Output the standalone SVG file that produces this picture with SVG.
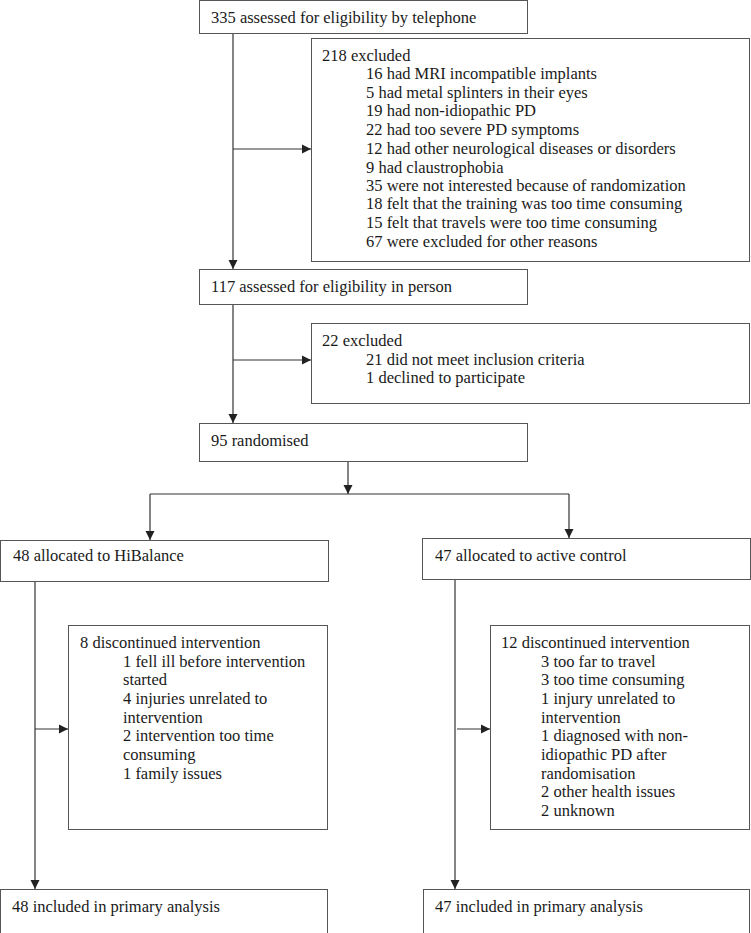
<svg xmlns="http://www.w3.org/2000/svg" width="751" height="933" viewBox="0 0 751 933">
<defs>
<marker id="ah" markerWidth="10" markerHeight="10" refX="9" refY="5" orient="auto" markerUnits="userSpaceOnUse">
<path d="M0,0.5 L9,5 L0,9.5 Z" fill="#222"/>
</marker>
<style>
.box{fill:#fff;stroke:#555;stroke-width:1}
.t{font-family:"Liberation Serif","DejaVu Serif",serif;font-size:16.5px;fill:#1a1a1a}
.c{stroke:#333;stroke-width:1.2;fill:none}
.a{marker-end:url(#ah)}
</style>
</defs>
<rect width="751" height="933" fill="#fff"/>
<g id="connectors">
<line class="c a" x1="233" y1="33" x2="233" y2="269"/>
<line class="c a" x1="233" y1="149" x2="311" y2="149"/>
<line class="c a" x1="233" y1="305" x2="233" y2="423"/>
<line class="c a" x1="233" y1="360" x2="311" y2="360"/>
<line class="c a" x1="348" y1="461" x2="348" y2="494"/>
<polyline class="c" points="150,494 569,494"/>
<line class="c a" x1="150" y1="494" x2="150" y2="540"/>
<line class="c a" x1="569" y1="494" x2="569" y2="538"/>
<line class="c a" x1="35" y1="581" x2="35" y2="889"/>
<line class="c a" x1="35" y1="729" x2="68" y2="729"/>
<line class="c a" x1="455" y1="579" x2="455" y2="889"/>
<line class="c a" x1="457" y1="729" x2="490" y2="729"/>
</g>
<g id="n1">
<rect class="box" x="199.5" y="0.5" width="328" height="33"/>
<text class="t" x="211" y="22.5">335 assessed for eligibility by telephone</text>
</g>
<g id="n2">
<rect class="box" x="311.5" y="38.5" width="438" height="223"/>
<text class="t" x="322" y="61">218 excluded</text>
<text class="t" x="366" y="79">16 had MRI incompatible implants</text>
<text class="t" x="366" y="98">5 had metal splinters in their eyes</text>
<text class="t" x="366" y="116">19 had non-idiopathic PD</text>
<text class="t" x="366" y="135">22 had too severe PD symptoms</text>
<text class="t" x="366" y="154">12 had other neurological diseases or disorders</text>
<text class="t" x="366" y="173">9 had claustrophobia</text>
<text class="t" x="366" y="191">35 were not interested because of randomization</text>
<text class="t" x="366" y="209">18 felt that the training was too time consuming</text>
<text class="t" x="366" y="228">15 felt that travels were too time consuming</text>
<text class="t" x="366" y="247">67 were excluded for other reasons</text>
</g>
<g id="n3">
<rect class="box" x="199.5" y="269.5" width="328" height="35"/>
<text class="t" x="211" y="292">117 assessed for eligibility in person</text>
</g>
<g id="n4">
<rect class="box" x="311.5" y="323.5" width="438" height="80"/>
<text class="t" x="322" y="346">22 excluded</text>
<text class="t" x="366" y="365">21 did not meet inclusion criteria</text>
<text class="t" x="366" y="383">1 declined to participate</text>
</g>
<g id="n5">
<rect class="box" x="199.5" y="423.5" width="328" height="38"/>
<text class="t" x="211" y="446">95 randomised</text>
</g>
<g id="n6">
<rect class="box" x="0.5" y="540.5" width="328" height="41"/>
<text class="t" x="13" y="561">48 allocated to HiBalance</text>
</g>
<g id="n7">
<rect class="box" x="422.5" y="538.5" width="328" height="41"/>
<text class="t" x="435" y="561">47 allocated to active control</text>
</g>
<g id="n8">
<rect class="box" x="68.5" y="625.5" width="259" height="204"/>
<text class="t" x="80" y="648">8 discontinued intervention</text>
<text class="t" x="123" y="667">1 fell ill before intervention</text>
<text class="t" x="123" y="685">started</text>
<text class="t" x="123" y="704">4 injuries unrelated to</text>
<text class="t" x="123" y="723">intervention</text>
<text class="t" x="123" y="741">2 intervention too time</text>
<text class="t" x="123" y="760">consuming</text>
<text class="t" x="123" y="779">1 family issues</text>
</g>
<g id="n9">
<rect class="box" x="490.5" y="625.5" width="259" height="204"/>
<text class="t" x="501" y="648">12 discontinued intervention</text>
<text class="t" x="541" y="667">3 too far to travel</text>
<text class="t" x="541" y="685">3 too time consuming</text>
<text class="t" x="541" y="704">1 injury unrelated to</text>
<text class="t" x="541" y="723">intervention</text>
<text class="t" x="541" y="741">1 diagnosed with non-</text>
<text class="t" x="541" y="760">idiopathic PD after</text>
<text class="t" x="541" y="779">randomisation</text>
<text class="t" x="541" y="797">2 other health issues</text>
<text class="t" x="541" y="816">2 unknown</text>
</g>
<g id="n10">
<rect class="box" x="0.5" y="889.5" width="327" height="44"/>
<text class="t" x="12" y="912">48 included in primary analysis</text>
</g>
<g id="n11">
<rect class="box" x="423.5" y="889.5" width="326" height="44"/>
<text class="t" x="435" y="912">47 included in primary analysis</text>
</g>
</svg>
